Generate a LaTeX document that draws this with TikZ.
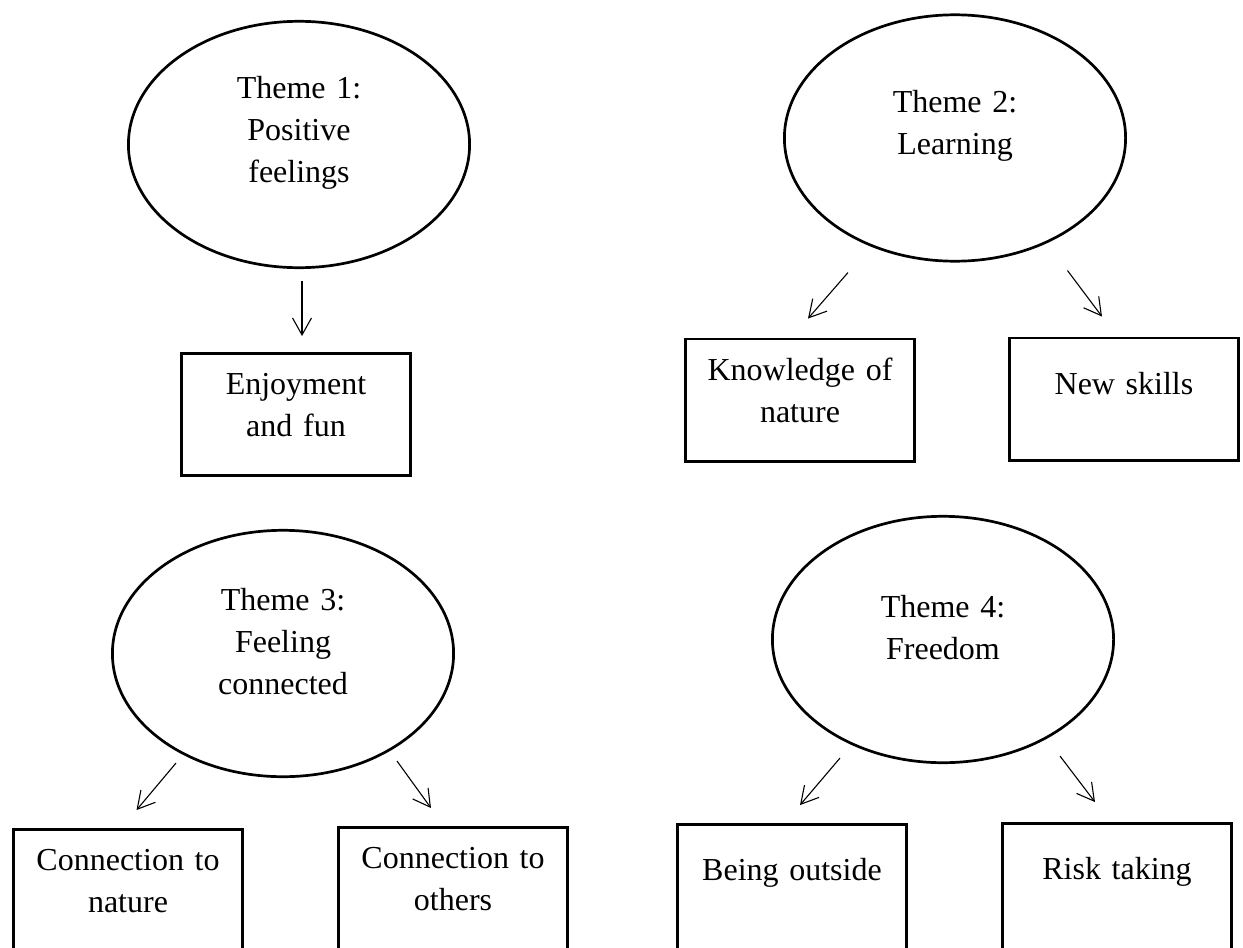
\documentclass[tikz,border=0pt]{standalone}
\usepackage{fontspec}
\setmainfont{Liberation Serif}
\usetikzlibrary{shapes.geometric, arrows.meta, positioning}
\newcommand{\bottompad}[1]{\endgraf\vspace*{#1}}

\begin{document}
\begin{tikzpicture}[
    x=0.5pt, y=-0.5pt,
    font=\fontsize{16}{21}\selectfont,
    theme/.style={draw, ellipse, line width=1.35pt, minimum width=170.6pt, minimum height=123.2pt, inner sep=2pt, text width=100pt, align=center, execute at end node={\bottompad{12pt}}},
    box/.style={draw, line width=1.35pt, minimum width=114.7pt, minimum height=61.2pt, inner sep=2pt, text width=104pt, align=center, execute at end node={\bottompad{#1}}},
    box/.default=10pt,
    lowbox/.style={box=#1, minimum height=76.2pt},
    arrow/.style={-{Straight Barb[length=8.5pt, width=9.5pt]}, line width=0.55pt}
]
    \useasboundingbox (0,0) rectangle (1243,948);

    \node[theme] (th1) at (299,144.5) {Theme 1:\\Positive\\feelings};
    \node[theme] (th2) at (955,138) {Theme 2:\\Learning};
    \node[theme] (th3) at (283,653.5) {Theme 3:\\Feeling\\connected};
    \node[theme] (th4) at (943,639.5) {Theme 4:\\Freedom};

    \node[box, below=41.5pt of th1, xshift=-1.5pt] (enjoy) {Enjoyment\\and fun};
    \node[box, below=37.5pt of th2, xshift=-77.5pt] (knowledge) {Knowledge of\\nature};
    \node[box=15.5pt, below=37pt of th2, xshift=84.5pt] (skills) {New skills};
    \node[lowbox=25pt, below=25pt of th3, xshift=-77.5pt] (cnature) {Connection to\\nature};
    \node[lowbox=25pt, below=24pt of th3, xshift=85pt] (cothers) {Connection to\\others};
    \node[lowbox=27.5pt, below=29.5pt of th4, xshift=-75.5pt] (outside) {Being outside};
    \node[lowbox=27.5pt, below=29pt of th4, xshift=87pt] (risk) {Risk taking};

    \draw[arrow] ([shift={(1.5pt,-6pt)}]th1.south) -- ([shift={(3pt,8pt)}]enjoy.north);
    \draw[arrow] ([shift={(-53.5pt,-5pt)}]th2.south) -- ([shift={(4pt,9.5pt)}]knowledge.north);
    \draw[arrow] ([shift={(56.25pt,-4pt)}]th2.south) -- ([shift={(-11pt,10pt)}]skills.north);
    \draw[arrow] ([shift={(-53.5pt,7.5pt)}]th3.south) -- ([shift={(4.25pt,9pt)}]cnature.north);
    \draw[arrow] ([shift={(57pt,8.5pt)}]th3.south) -- ([shift={(-11pt,9pt)}]cothers.north);
    \draw[arrow] ([shift={(-51.5pt,3pt)}]th4.south) -- ([shift={(4pt,9pt)}]outside.north);
    \draw[arrow] ([shift={(58.5pt,4pt)}]th4.south) -- ([shift={(-11pt,10pt)}]risk.north);
\end{tikzpicture}
\end{document}
